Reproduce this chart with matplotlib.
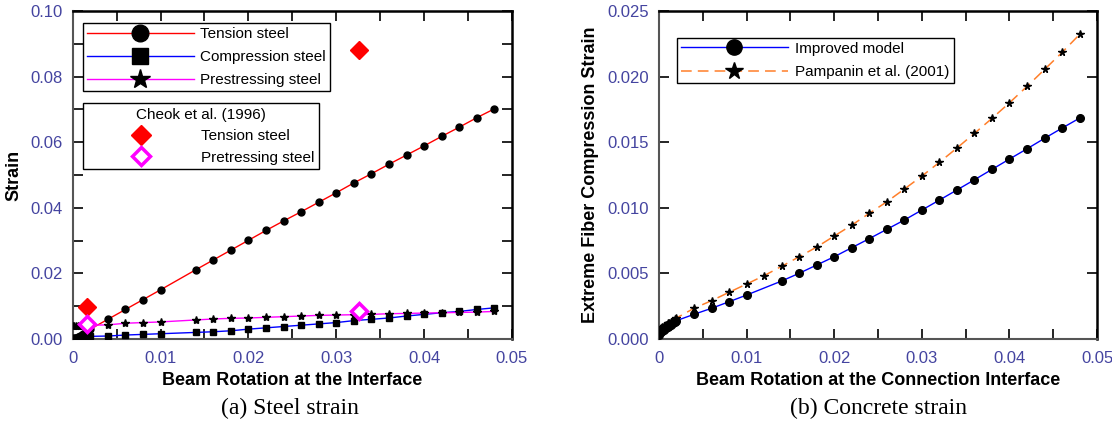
import matplotlib
matplotlib.use('Agg')
import matplotlib.pyplot as plt
from matplotlib.lines import Line2D
from matplotlib.ticker import MultipleLocator, FixedLocator, FixedFormatter

plt.rcParams['font.family'] = ['Liberation Sans', 'DejaVu Sans']

# ---- (a) steel strain ----
rot_a = [0, 0.0002, 0.0004, 0.0006, 0.0008, 0.001, 0.0012, 0.0014, 0.0016, 0.0018, 0.002,
         0.004, 0.006, 0.008, 0.010, 0.014, 0.016, 0.018, 0.020, 0.022, 0.024, 0.026, 0.028,
         0.030, 0.032, 0.034, 0.036, 0.038, 0.040, 0.042, 0.044, 0.046, 0.048]
tension = [0, 0.0002, 0.0004, 0.0007, 0.0010, 0.0013, 0.0016, 0.0019, 0.0022, 0.0026, 0.0030,
           0.0060, 0.0090, 0.0120, 0.0150, 0.0211, 0.0241, 0.0271, 0.0301, 0.0331, 0.0360, 0.0388, 0.0417,
           0.0446, 0.0476, 0.0504, 0.0533, 0.0561, 0.0589, 0.0618, 0.0646, 0.0675, 0.0702]
compression = [0, 0.0002, 0.0003, 0.0004, 0.0005, 0.0006, 0.0006, 0.0007, 0.0007, 0.0008, 0.0008,
               0.0009, 0.0012, 0.0014, 0.0016, 0.0020, 0.0022, 0.0025, 0.0030, 0.0034, 0.0038, 0.0042, 0.0046,
               0.0050, 0.0056, 0.0060, 0.0064, 0.0070, 0.0075, 0.0080, 0.0084, 0.0090, 0.0095]
prestress = [0.0040, 0.0040, 0.0040, 0.0041, 0.0041, 0.0041, 0.0041, 0.0042, 0.0042, 0.0042, 0.0042,
             0.0043, 0.0048, 0.0050, 0.0052, 0.0058, 0.0061, 0.0063, 0.0064, 0.0066, 0.0068, 0.0070, 0.0072,
             0.0073, 0.0074, 0.0075, 0.0077, 0.0078, 0.0079, 0.0080, 0.0081, 0.0082, 0.0084]

cheok_rot = [0.0016, 0.0326]
cheok_tension = [0.0099, 0.0881]
cheok_prestress = [0.0046, 0.0086]

# ---- (b) concrete strain ----
rot_b = [0, 0.0002, 0.0004, 0.0006, 0.0008, 0.001, 0.0012, 0.0014, 0.0016, 0.0018, 0.002,
         0.004, 0.006, 0.008, 0.010, 0.014, 0.016, 0.018, 0.020, 0.022, 0.024, 0.026, 0.028,
         0.030, 0.032, 0.034, 0.036, 0.038, 0.040, 0.042, 0.044, 0.046, 0.048]
improved = [0.0003, 0.0005, 0.0006, 0.0007, 0.0008, 0.0009, 0.0010, 0.0011, 0.0012, 0.0013, 0.0014,
            0.00188, 0.00234, 0.00284, 0.00335, 0.00442, 0.00501, 0.00564, 0.00627, 0.00696, 0.00765,
            0.00836, 0.00907, 0.00983, 0.01059, 0.01136, 0.01214, 0.01293, 0.01372, 0.01450, 0.01530,
            0.01608, 0.01684]
rot_p = [0, 0.0002, 0.0004, 0.0006, 0.0008, 0.001, 0.0012, 0.0014, 0.0016, 0.0018, 0.002,
         0.004, 0.006, 0.008, 0.010, 0.012, 0.014, 0.016, 0.018, 0.020, 0.022, 0.024, 0.026, 0.028,
         0.030, 0.032, 0.034, 0.036, 0.038, 0.040, 0.042, 0.044, 0.046, 0.048]
pampanin = [0.0007, 0.0008, 0.0009, 0.0010, 0.0011, 0.0012, 0.0012, 0.0013, 0.0014, 0.0015, 0.0016,
            0.00234, 0.00292, 0.00356, 0.00419, 0.00483, 0.00554, 0.00627, 0.00701, 0.00785, 0.00868,
            0.00958, 0.01046, 0.01143, 0.01242, 0.01347, 0.01456, 0.01568, 0.01682, 0.01801, 0.01926,
            0.02055, 0.02185, 0.02322]

x_ticks = [0, 0.01, 0.02, 0.03, 0.04, 0.05]
x_labels = ['0', '0.01', '0.02', '0.03', '0.04', '0.05']

TICK_COLOR = '#4444a0'
ORANGE = '#ff7f2a'

fig = plt.figure(figsize=(11.12, 4.28), dpi=100)
ax1 = fig.add_axes([0.0654, 0.208, 0.395, 0.766])
ax2 = fig.add_axes([0.5926, 0.208, 0.394, 0.766])


def style_axes(ax):
    for s in ['top', 'right']:
        ax.spines[s].set_color('black')
        ax.spines[s].set_linewidth(1.8)
    for s in ['left', 'bottom']:
        ax.spines[s].set_color('#555555')
        ax.spines[s].set_linewidth(1.5)
    ax.tick_params(which='both', direction='in', top=True, right=True,
                   length=7.5, width=1.2, labelsize=12, labelcolor=TICK_COLOR)
    ax.tick_params(axis='x', which='both', pad=9)
    ax.tick_params(axis='y', which='both', pad=7)
    ax.xaxis.set_major_locator(FixedLocator(x_ticks))
    ax.xaxis.set_major_formatter(FixedFormatter(x_labels))
    ax.xaxis.set_minor_locator(MultipleLocator(0.005))
    ax.set_xlim(0, 0.05)


# ---------- left chart ----------
ax1.plot(rot_a, tension, color='red', lw=1, marker='o', ms=5, mfc='black', mec='black', zorder=3)
ax1.plot(rot_a, compression, color='blue', lw=1, marker='s', ms=4.5, mfc='black', mec='black', zorder=3)
ax1.plot(rot_a, prestress, color='magenta', lw=1, marker='*', ms=6, mfc='black', mec='black', zorder=3)
ax1.plot(cheok_rot, cheok_tension, ls='none', marker='D', ms=9, color='red', zorder=4)
ax1.plot(cheok_rot, cheok_prestress, ls='none', marker='D', ms=8, mfc='white', mec='magenta', mew=2.5, zorder=4)

style_axes(ax1)
ax1.set_ylim(0, 0.10)
ax1.yaxis.set_major_locator(MultipleLocator(0.02))
ax1.yaxis.set_minor_locator(MultipleLocator(0.01))
ax1.yaxis.set_major_formatter(matplotlib.ticker.FormatStrFormatter('%.2f'))
ax1.set_xlabel('Beam Rotation at the Interface', fontsize=13, fontweight='bold', labelpad=4)
ax1.set_ylabel('Strain', fontsize=13, fontweight='bold', labelpad=6)

h1 = [Line2D([], [], color='red', lw=1, marker='o', ms=12, mfc='black', mec='black'),
      Line2D([], [], color='blue', lw=1, marker='s', ms=12, mfc='black', mec='black'),
      Line2D([], [], color='magenta', lw=1, marker='*', ms=15, mfc='black', mec='black')]
leg1 = ax1.legend(h1, ['Tension steel', 'Compression steel', 'Prestressing steel'],
                  loc='upper left', bbox_to_anchor=(0.023, 0.963), fontsize=11,
                  handlelength=7.0, handletextpad=0.45, labelspacing=0.6, borderpad=0.25,
                  borderaxespad=0, fancybox=False, framealpha=1, edgecolor='black')
leg1.get_frame().set_linewidth(1)
ax1.add_artist(leg1)

h2 = [Line2D([], [], ls='none', marker='D', ms=10, color='red'),
      Line2D([], [], ls='none', marker='D', ms=9, mfc='white', mec='magenta', mew=2.5)]
leg2 = ax1.legend(h2, ['Tension steel', 'Pretressing steel'], title='Cheok et al. (1996)',
                  title_fontsize=11, loc='upper left', bbox_to_anchor=(0.023, 0.72), fontsize=11,
                  handlelength=7.0, handletextpad=0.45, labelspacing=0.5, borderpad=0.3,
                  borderaxespad=0, fancybox=False, framealpha=1, edgecolor='black')
leg2.get_frame().set_linewidth(1)

# ---------- right chart ----------
ax2.plot(rot_b, improved, color='blue', lw=1, marker='o', ms=5.5, mfc='black', mec='black', zorder=3)
ax2.plot(rot_p, pampanin, color=ORANGE, lw=1.1, ls=(0, (7, 4)), marker='*', ms=5.5,
         mfc='black', mec='black', zorder=3)

style_axes(ax2)
ax2.set_ylim(0, 0.025)
ax2.yaxis.set_major_locator(MultipleLocator(0.005))
ax2.yaxis.set_major_formatter(matplotlib.ticker.FormatStrFormatter('%.3f'))
ax2.set_xlabel('Beam Rotation at the Connection Interface', fontsize=13, fontweight='bold', labelpad=4)
ax2.set_ylabel('Extreme Fiber Compression Strain', fontsize=13, fontweight='bold', labelpad=6)

h3 = [Line2D([], [], color='blue', lw=1, marker='o', ms=11, mfc='black', mec='black'),
      Line2D([], [], color=ORANGE, lw=1.1, ls=(0, (7, 4)), marker='*', ms=13, mfc='black', mec='black')]
leg3 = ax2.legend(h3, ['Improved model', 'Pampanin et al. (2001)'],
                  loc='upper left', bbox_to_anchor=(0.041, 0.918), fontsize=11,
                  handlelength=7.0, handletextpad=0.5, labelspacing=0.6, borderpad=0.25,
                  borderaxespad=0, fancybox=False, framealpha=1, edgecolor='black')
leg3.get_frame().set_linewidth(1)

# captions
fig.text(290 / 1112, 1 - 408 / 428, '(a) Steel strain', ha='center', va='center',
         fontsize=17, family=['Liberation Serif', 'DejaVu Serif'])
fig.text(878 / 1112, 1 - 408 / 428, '(b) Concrete strain', ha='center', va='center',
         fontsize=17, family=['Liberation Serif', 'DejaVu Serif'])

fig.savefig('out.png', dpi=100)
plt.close(fig)
